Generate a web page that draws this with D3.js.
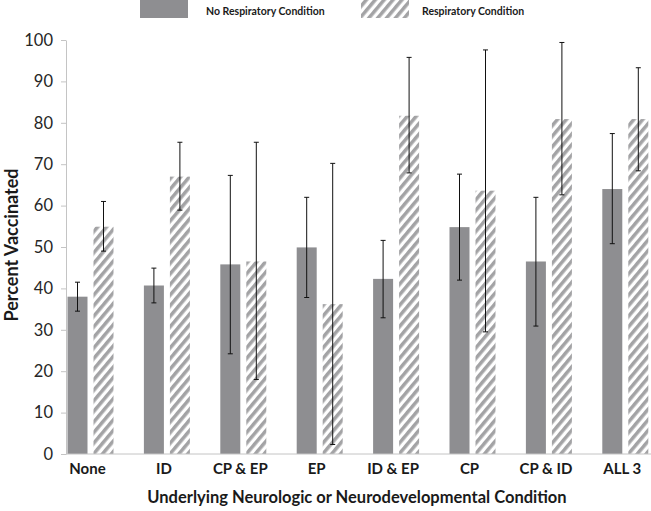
<!DOCTYPE html>
<html>
<head>
<meta charset="utf-8">
<script src="https://cdn.jsdelivr.net/npm/d3@7"></script>
<style>
  body { margin: 0; background: #fff; }
  svg { display: block; }
</style>
</head>
<body>
<svg id="chart" width="651" height="511"></svg>
<script>
const categories = ["None", "ID", "CP & EP", "EP", "ID & EP", "CP", "CP & ID", "ALL 3"];
const seriesNames = ["No Respiratory Condition", "Respiratory Condition"];
const noResp     = [38.0, 40.7, 45.8, 49.9, 42.3, 54.8, 46.5, 64.0];
const noRespLow  = [34.5, 36.5, 24.2, 37.8, 32.9, 42.0, 30.9, 50.8];
const noRespHigh = [41.5, 44.9, 67.3, 62.0, 51.6, 67.6, 62.0, 77.4];
const resp       = [54.9, 67.0, 46.5, 36.2, 81.7, 63.6, 80.9, 80.9];
const respLow    = [49.0, 58.9, 18.0,  2.3, 67.9, 29.5, 62.6, 68.4];
const respHigh   = [61.0, 75.3, 75.3, 70.2, 95.8, 97.6, 99.4, 93.3];
const yTicks = [0, 10, 20, 30, 40, 50, 60, 70, 80, 90, 100];
const yTitle = "Percent Vaccinated";
const xTitle = "Underlying Neurologic or Neurodevelopmental Condition";

const svg = d3.select("#chart");
const FONT = "Lato, 'Open Sans', sans-serif";

// pattern
const defs = svg.append("defs");
const pat = defs.append("pattern")
  .attr("id", "hatch")
  .attr("patternUnits", "userSpaceOnUse")
  .attr("width", 6.8).attr("height", 6.8)
  .attr("patternTransform", "rotate(-50)");
pat.append("rect").attr("width", 6.8).attr("height", 6.8).attr("fill", "#fff");
pat.append("rect").attr("x", 0).attr("y", 0).attr("width", 6.8).attr("height", 3.5).attr("fill", "#a3a3a5");

const x = d3.scaleBand().domain(categories).range([52.3, 663.5]).paddingInner(0).paddingOuter(0);
const x1 = d3.scaleBand().domain(["no", "resp"]).range([-23, 23]).paddingInner(6 / 26).paddingOuter(0);
const y = d3.scaleLinear().domain([0, 100]).range([454, 40]);

// y axis
const yAxis = svg.append("g")
  .attr("transform", "translate(66,0)")
  .call(d3.axisLeft(y).tickValues(yTicks).tickSize(5).tickSizeOuter(0).tickPadding(8));
yAxis.select(".domain").attr("stroke", "#c4c4c4");
yAxis.selectAll(".tick line").attr("stroke", "#c4c4c4");
yAxis.selectAll(".tick text")
  .attr("fill", "#262626")
  .style("font-family", FONT)
  .style("font-size", "16.5px");

// bars
const data = categories.map((c, i) => ({
  cat: c,
  vals: [
    { key: "no", v: noResp[i], lo: noRespLow[i], hi: noRespHigh[i] },
    { key: "resp", v: resp[i], lo: respLow[i], hi: respHigh[i] }
  ]
}));

const groups = svg.append("g").selectAll("g").data(data).join("g")
  .attr("transform", d => `translate(${x(d.cat) + x.bandwidth() / 2},0)`);

groups.selectAll("rect").data(d => d.vals).join("rect")
  .attr("x", d => x1(d.key))
  .attr("width", x1.bandwidth())
  .attr("y", d => y(d.v))
  .attr("height", d => y(0) - y(d.v))
  .attr("fill", d => d.key === "no" ? "#8e8e91" : "url(#hatch)");

// x axis line
svg.append("line")
  .attr("x1", 66).attr("x2", 651)
  .attr("y1", y(0)).attr("y2", y(0))
  .attr("stroke", "#c4c4c4");

// error bars
const eb = groups.selectAll("g.err").data(d => d.vals).join("g").attr("class", "err")
  .attr("transform", d => `translate(${x1(d.key) + x1.bandwidth() / 2},0)`);
eb.append("line").attr("x1", 0).attr("x2", 0)
  .attr("y1", d => y(d.hi)).attr("y2", d => y(d.lo))
  .attr("stroke", "#111").attr("stroke-width", 1);
eb.append("line").attr("x1", -2.5).attr("x2", 2.5)
  .attr("y1", d => y(d.hi)).attr("y2", d => y(d.hi))
  .attr("stroke", "#111").attr("stroke-width", 1);
eb.append("line").attr("x1", -2.5).attr("x2", 2.5)
  .attr("y1", d => y(d.lo)).attr("y2", d => y(d.lo))
  .attr("stroke", "#111").attr("stroke-width", 1);

// x labels
svg.append("g").selectAll("text").data(categories).join("text")
  .attr("x", d => x(d) + x.bandwidth() / 2 - 3)
  .attr("y", 474)
  .attr("text-anchor", "middle")
  .attr("fill", "#1a1a1a")
  .style("font-family", FONT)
  .style("font-weight", "bold")
  .style("font-size", "15px")
  .text(d => d);

// axis titles
svg.append("text")
  .attr("x", 357).attr("y", 503)
  .attr("text-anchor", "middle")
  .attr("fill", "#1a1a1a")
  .style("font-family", FONT)
  .style("font-weight", "bold")
  .style("font-size", "16.5px")
  .text(xTitle);

svg.append("text")
  .attr("transform", "translate(18,245) rotate(-90)")
  .attr("text-anchor", "middle")
  .attr("fill", "#1a1a1a")
  .style("font-family", FONT)
  .style("font-weight", "bold")
  .style("font-size", "18px")
  .text(yTitle);

// legend
const legend = svg.append("g");
const legendItems = [
  { name: seriesNames[0], fill: "#8e8e91", rx: 140, tx: 206 },
  { name: seriesNames[1], fill: "url(#hatch)", rx: 361, tx: 422 }
];
legend.selectAll("rect").data(legendItems).join("rect")
  .attr("x", d => d.rx).attr("y", 0)
  .attr("width", 48).attr("height", 18)
  .attr("fill", d => d.fill);
legend.selectAll("text").data(legendItems).join("text")
  .attr("x", d => d.tx).attr("y", 15)
  .attr("fill", "#1a1a1a")
  .style("font-family", FONT)
  .style("font-weight", "bold")
  .style("font-size", "10.5px")
  .text(d => d.name);
</script>
</body>
</html>
